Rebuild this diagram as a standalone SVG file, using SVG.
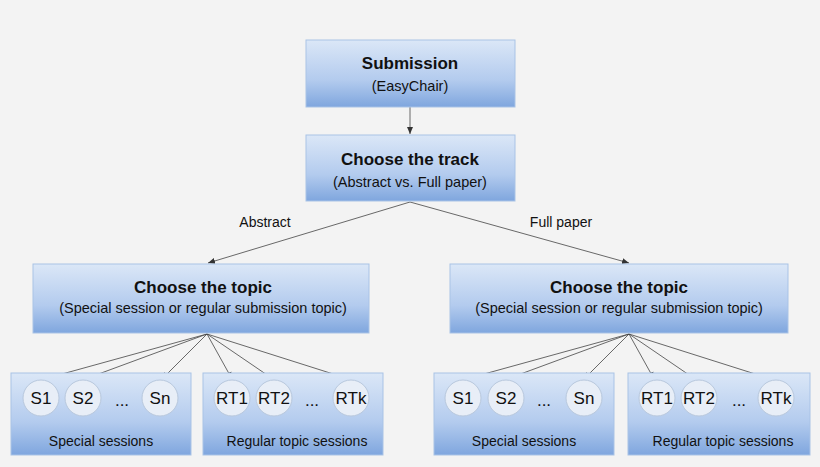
<svg xmlns="http://www.w3.org/2000/svg" width="820" height="467" viewBox="0 0 820 467">
<defs>
<linearGradient id="g" x1="0" y1="0" x2="0" y2="1"><stop offset="0" stop-color="#dbe7f7"/><stop offset="0.6" stop-color="#b3cbee"/><stop offset="1" stop-color="#7fa6de"/></linearGradient>
<marker id="a" markerWidth="8" markerHeight="8" refX="7" refY="4" orient="auto" markerUnits="userSpaceOnUse"><path d="M0,1 L7,4 L0,7 Z" fill="#333"/></marker>
<style>
.b{fill:url(#g);stroke:#a9c3e6;stroke-width:1}
.c{fill:#e8eef7;stroke:#b8c8dd;stroke-width:1}
text{font-family:"Liberation Sans",Arial,sans-serif;fill:#111;text-anchor:middle}
.t{font-size:17px;font-weight:bold}
.s{font-size:14.5px}
.n{font-size:17px}
.l{font-size:14px}
.e{stroke:#444;stroke-width:0.8;fill:none;marker-end:url(#a)}
</style>
</defs>
<rect width="820" height="467" fill="#f3f3f3"/>
<g id="connectors">
<line class="e" x1="410" y1="107" x2="410" y2="134"/>
<line class="e" x1="410" y1="202" x2="208" y2="263"/>
<line class="e" x1="410" y1="202" x2="629" y2="263"/>
<g id="cl">
<line class="e" x1="207" y1="334" x2="44" y2="379"/>
<line class="e" x1="207" y1="334" x2="85" y2="379"/>
<line class="e" x1="207" y1="334" x2="162" y2="379"/>
<line class="e" x1="207" y1="334" x2="232" y2="379"/>
<line class="e" x1="207" y1="334" x2="273" y2="379"/>
<line class="e" x1="207" y1="334" x2="349" y2="379"/>
</g>
<g transform="translate(422,0)">
<line class="e" x1="207" y1="334" x2="44" y2="379"/>
<line class="e" x1="207" y1="334" x2="85" y2="379"/>
<line class="e" x1="207" y1="334" x2="162" y2="379"/>
<line class="e" x1="207" y1="334" x2="232" y2="379"/>
<line class="e" x1="207" y1="334" x2="273" y2="379"/>
<line class="e" x1="207" y1="334" x2="349" y2="379"/>
</g>
<text class="l" x="265" y="227">Abstract</text>
<text class="l" x="561" y="227">Full paper</text>
</g>
<g id="submission"><rect class="b" x="306" y="40" width="209" height="67"/><text class="t" x="410" y="69">Submission</text><text class="s" x="410" y="91">(EasyChair)</text></g>
<g id="track"><rect class="b" x="306" y="135" width="209" height="66"/><text class="t" x="410" y="165">Choose the track</text><text class="s" x="410" y="187">(Abstract vs. Full paper)</text></g>
<g id="topic-left"><rect class="b" x="33" y="264" width="336" height="69"/><text class="t" x="203" y="293">Choose the topic</text><text class="s" x="203" y="313">(Special session or regular submission topic)</text></g>
<g id="topic-right"><rect class="b" x="450" y="264" width="338" height="69"/><text class="t" x="619" y="293">Choose the topic</text><text class="s" x="619" y="313">(Special session or regular submission topic)</text></g>
<g id="special-left"><rect class="b" x="11" y="373" width="180" height="82"/>
<circle class="c" cx="41" cy="398" r="18"/><text class="n" x="41" y="404">S1</text>
<circle class="c" cx="83" cy="398" r="18"/><text class="n" x="83" y="404">S2</text>
<text class="n" x="122" y="406">...</text>
<circle class="c" cx="160" cy="398" r="18"/><text class="n" x="160" y="404">Sn</text>
<text class="l" x="101" y="446">Special sessions</text></g>
<g id="regular-left"><rect class="b" x="203" y="373" width="180" height="82"/>
<circle class="c" cx="232" cy="398" r="18"/><text class="n" x="232" y="404">RT1</text>
<circle class="c" cx="274" cy="398" r="18"/><text class="n" x="274" y="404">RT2</text>
<text class="n" x="312" y="406">...</text>
<circle class="c" cx="351" cy="398" r="18"/><text class="n" x="351" y="404">RTk</text>
<text class="l" x="297" y="446">Regular topic sessions</text></g>
<g id="special-right"><rect class="b" x="434" y="373" width="180" height="82"/>
<circle class="c" cx="463" cy="398" r="18"/><text class="n" x="463" y="404">S1</text>
<circle class="c" cx="506" cy="398" r="18"/><text class="n" x="506" y="404">S2</text>
<text class="n" x="544" y="406">...</text>
<circle class="c" cx="584" cy="398" r="18"/><text class="n" x="584" y="404">Sn</text>
<text class="l" x="524" y="446">Special sessions</text></g>
<g id="regular-right"><rect class="b" x="628" y="373" width="182" height="82"/>
<circle class="c" cx="657" cy="398" r="18"/><text class="n" x="657" y="404">RT1</text>
<circle class="c" cx="699" cy="398" r="18"/><text class="n" x="699" y="404">RT2</text>
<text class="n" x="739" y="406">...</text>
<circle class="c" cx="776" cy="398" r="18"/><text class="n" x="776" y="404">RTk</text>
<text class="l" x="723" y="446">Regular topic sessions</text></g>
</svg>
